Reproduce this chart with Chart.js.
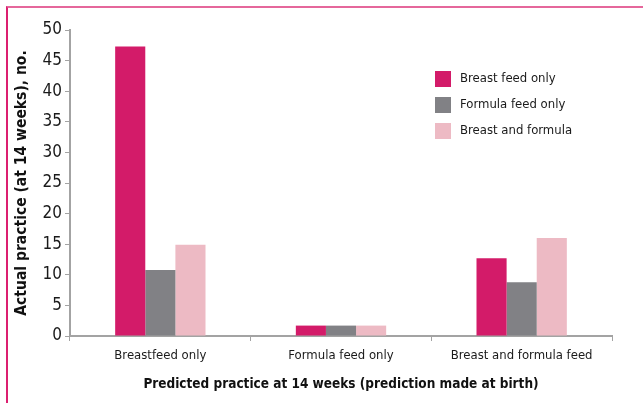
<!DOCTYPE html>
<html>
<head>
<meta charset="utf-8">
<script src="https://cdn.jsdelivr.net/npm/chart.js@4.4.1/dist/chart.umd.min.js"></script>
<style>
  html, body { margin: 0; padding: 0; background: #fff; }
  #wrap { position: relative; width: 643px; height: 403px; }
  #frame {
    position: absolute; left: 6px; top: 6px; right: 0; bottom: 0;
    border-top: 2px solid #e5679b; border-left: 2px solid #dc1f70;
    pointer-events: none;
  }
  canvas { position: absolute; left: 0; top: 0; }
</style>
</head>
<body>
<div id="wrap">
  <canvas id="c" width="643" height="403"></canvas>
  <div id="frame"></div>
</div>
<script>
// Predicted feeding practice (at birth) vs actual practice at 14 weeks
const categories = ['Breastfeed only', 'Formula feed only', 'Breast and formula feed'];
const seriesNames = ['Breast feed only', 'Formula feed only', 'Breast and formula'];
const breastFeedOnly = [47.3, 1.7, 12.7];
const formulaFeedOnly = [10.8, 1.7, 8.8];
const breastAndFormula = [14.9, 1.7, 16.0];
const yTicks = [0, 5, 10, 15, 20, 25, 30, 35, 40, 45, 50];

const seriesColors = ['#d31b69', '#818185', '#edbac4'];
const FONT = '"Liberation Sans Narrow", "DejaVu Sans Condensed", "Arial Narrow", sans-serif';

// Legend drawn as boxes + labels in the upper right of the plot
const boxLegend = {
  id: 'boxLegend',
  afterDraw(chart) {
    const ctx = chart.ctx;
    ctx.save();
    ctx.font = '13px ' + FONT;
    ctx.textBaseline = 'middle';
    ctx.textAlign = 'left';
    chart.data.datasets.forEach((ds, i) => {
      const cy = 79 + i * 26;
      ctx.fillStyle = ds.backgroundColor;
      ctx.fillRect(435, cy - 8, 16, 16);
      ctx.fillStyle = '#1a1a1a';
      ctx.fillText(ds.label, 460, cy);
    });
    ctx.restore();
  }
};

new Chart(document.getElementById('c'), {
  type: 'bar',
  data: {
    labels: categories,
    datasets: [
      { label: seriesNames[0], data: breastFeedOnly, backgroundColor: seriesColors[0] },
      { label: seriesNames[1], data: formulaFeedOnly, backgroundColor: seriesColors[1] },
      { label: seriesNames[2], data: breastAndFormula, backgroundColor: seriesColors[2] }
    ]
  },
  options: {
    responsive: false,
    animation: false,
    devicePixelRatio: 1,
    categoryPercentage: 0.5,
    barPercentage: 1.0,
    layout: { padding: { left: 0, top: 30, right: 31, bottom: 0 } },
    plugins: {
      legend: { display: false },
      tooltip: { enabled: false }
    },
    scales: {
      x: {
        grid: { display: true, drawOnChartArea: false, drawTicks: true, tickLength: 5, color: '#a3a3a3', lineWidth: 1 },
        border: { display: true, color: '#a3a3a3', width: 2 },
        ticks: { color: '#1a1a1a', font: { family: FONT, size: 13 }, padding: 7, maxRotation: 0 },
        title: {
          display: true,
          text: 'Predicted practice at 14 weeks (prediction made at birth)',
          color: '#111',
          font: { family: FONT, size: 13.5, weight: 'bold', lineHeight: 1.2 },
          padding: { top: 0, bottom: 10 }
        },
        afterFit(scale) { scale.height = 67; }
      },
      y: {
        min: 0,
        max: 50,
        afterBuildTicks(scale) { scale.ticks = yTicks.map(v => ({ value: v })); },
        grid: { display: true, drawOnChartArea: false, drawTicks: true, tickLength: 5, color: '#a3a3a3', lineWidth: 1 },
        border: { display: true, color: '#a3a3a3', width: 2 },
        ticks: { color: '#1a1a1a', font: { family: FONT, size: 17 }, padding: 3 },
        title: {
          display: true,
          text: 'Actual practice (at 14 weeks), no.',
          color: '#111',
          font: { family: FONT, size: 15.5, weight: 'bold', lineHeight: 1.2 },
          padding: { top: 13, bottom: 0 }
        },
        afterFit(scale) { scale.width = 70; }
      }
    }
  },
  plugins: [boxLegend]
});
</script>
</body>
</html>
